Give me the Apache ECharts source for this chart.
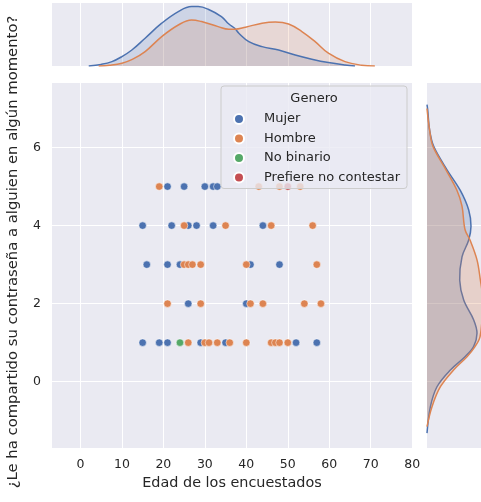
<!DOCTYPE html>
<html><head><meta charset="utf-8">
<script src="https://cdn.jsdelivr.net/npm/echarts@6/dist/echarts.min.js"></script>
<style>html,body{margin:0;padding:0;background:#fff}#c{width:481px;height:502px}</style>
</head><body><div id="c"></div>
<script>
// ---- data ----
const categorias = ['Mujer', 'Hombre', 'No binario', 'Prefiere no contestar'];

const mujerEdad = [21,25,30,32,33, 15,22,26,28,32,44, 16,21,24,41,48, 26,40, 15,19,21,29,35,52,57];
const mujerResp = [5,5,5,5,5, 4,4,4,4,4,4, 3,3,3,3,3, 2,2, 1,1,1,1,1,1,1];

const hombreEdad = [19,43,48,53, 25,35,46,56, 25,26,27,29,40,57, 21,29,41,44,54,58, 26,30,31,33,36,40,46,47,48,50];
const hombreResp = [5,5,5,5, 4,4,4,4, 3,3,3,3,3,3, 2,2,2,2,2,2, 1,1,1,1,1,1,1,1,1,1];

const noBinarioEdad = [24];
const noBinarioResp = [1];

const prefiereEdad = [50];
const prefiereResp = [5];

// top marginal KDE (edad vs densidad)
const kdeTopMujerEdad = [2,5,7.6,10,12.4,15.6,19.6,23.6,26.8,28.4,30.8,34,35.8,37.2,38.2,40.6,43.8,47.8,51.8,55.8,59.8,63.8,66.2];
const kdeTopMujerDens = [0,0.0008,0.0022,0.0047,0.0080,0.0139,0.0214,0.0272,0.0297,0.0297,0.0284,0.0247,0.0210,0.0189,0.0164,0.0122,0.0097,0.0080,0.0055,0.0034,0.0017,0.0005,0];
const kdeTopHombreEdad = [4.4,7,10,12.5,15.6,19.6,23.6,26.8,29.2,33.2,35.8,37.2,39.8,43.8,47,50.2,53.4,56.6,59.8,63.8,67.8,71];
const kdeTopHombreDens = [0,0.0004,0.0014,0.0033,0.0072,0.0147,0.0205,0.0230,0.0222,0.0197,0.0184,0.0184,0.0194,0.0214,0.0220,0.0210,0.0172,0.0122,0.0064,0.0022,0.0004,0];

// right marginal KDE (respuesta vs densidad)
const kdeDerMujerResp = [7.1,6.97,6.45,6.03,5.43,4.9,4.4,3.98,3.63,3.2,2.6,2.09,1.58,1.24,0.9,0.64,0.3,-0.13,-0.64,-1.32];
const kdeDerMujerDens = [0,0.0035,0.013,0.0335,0.1,0.1665,0.2085,0.22,0.2085,0.175,0.1635,0.1835,0.2335,0.25,0.233,0.19,0.117,0.05,0.017,0];
const kdeDerHombreResp = [7.0,6.45,6.03,5.43,4.9,4.5,3.9,3.63,3.12,2.6,2.18,1.75,1.15,0.9,0.64,0.3,-0.13,-0.64,-1.15];
const kdeDerHombreDens = [0,0.013,0.03,0.095,0.15,0.175,0.19,0.215,0.25,0.267,0.278,0.277,0.265,0.24,0.2,0.133,0.067,0.025,0];

const xTickValores = [0,10,20,30,40,50,60,70,80];
const yTickValores = [0,2,4,6];

// ---- chart ----
const FONT = 'DejaVu Sans';
const TXT = '#262626';
const colores = { 'Mujer': '#4c72b0', 'Hombre': '#dd8452', 'No binario': '#55a868', 'Prefiere no contestar': '#c44e52' };
const zip = (a, b) => a.map((v, i) => [v, b[i]]);

function scatter(name, xs, ys) {
  return {
    name, type: 'scatter', xAxisIndex: 0, yAxisIndex: 0,
    data: zip(xs, ys), symbol: 'circle', symbolSize: 7.5,
    itemStyle: { color: colores[name], borderColor: '#ffffff', borderWidth: 0.5, opacity: 1 },
    emphasis: { disabled: true }
  };
}
function rgba(hex, a) {
  const n = parseInt(hex.slice(1), 16);
  return `rgba(${(n >> 16) & 255},${(n >> 8) & 255},${n & 255},${a})`;
}
function kdeTop(name, xs, ds) {
  return {
    name: name + ' kde', type: 'line', xAxisIndex: 1, yAxisIndex: 1,
    data: zip(xs, ds), smooth: 0.4, symbol: 'none', silent: true,
    lineStyle: { color: colores[name], width: 1.5 },
    areaStyle: { color: rgba(colores[name], 0.25) }
  };
}
function kdeDer(name, ds, rs) {
  return {
    name: name + ' kde2', type: 'custom', coordinateSystem: 'cartesian2d',
    xAxisIndex: 2, yAxisIndex: 2, silent: true,
    data: [[0, rs[0]]],
    renderItem: function (params, api) {
      const pts = ds.map((d, i) => api.coord([d, rs[i]]));
      let minx = Infinity, miny = Infinity, maxx = -Infinity, maxy = -Infinity;
      pts.forEach(p => { minx = Math.min(minx, p[0]); maxx = Math.max(maxx, p[0]); miny = Math.min(miny, p[1]); maxy = Math.max(maxy, p[1]); });
      const cons = [[minx, miny], [maxx, maxy]];
      return {
        type: 'group', children: [
          { type: 'polygon', shape: { points: pts, smooth: 0.35, smoothConstraint: cons }, style: { fill: rgba(colores[name], 0.25) } },
          { type: 'polyline', shape: { points: pts, smooth: 0.35, smoothConstraint: cons }, style: { stroke: colores[name], lineWidth: 1.5, fill: null } }
        ]
      };
    }
  };
}

const chart = echarts.init(document.getElementById('c'), null, { renderer: 'canvas' });
const hiddenAxis = { show: true, axisLine: { show: false }, axisTick: { show: false }, axisLabel: { show: false } };
const white = { show: true, lineStyle: { color: '#ffffff', width: 1 } };

chart.setOption({
  animation: false,
  backgroundColor: '#ffffff',
  textStyle: { fontFamily: FONT },
  grid: [
    { left: 51, top: 82, width: 362, height: 366, show: true, backgroundColor: '#eaeaf2', borderWidth: 0 },
    { left: 51, top: 3, width: 362, height: 63, show: true, backgroundColor: '#eaeaf2', borderWidth: 0 },
    { left: 427, top: 82, width: 54, height: 366, show: true, backgroundColor: '#eaeaf2', borderWidth: 0 }
  ],
  xAxis: [
    { type: 'value', gridIndex: 0, min: -7.1, max: 80.2, splitNumber: 9,
      axisLine: { show: false }, axisTick: { show: false }, splitLine: white,
      axisLabel: { color: TXT, fontSize: 12.5, fontFamily: FONT, margin: 10,
        formatter: v => xTickValores.includes(v) ? String(v) : '' },
      name: 'Edad de los encuestados', nameLocation: 'middle', nameGap: 28,
      nameTextStyle: { color: TXT, fontSize: 14.4, fontFamily: FONT } },
    Object.assign({ type: 'value', gridIndex: 1, min: -7.1, max: 80.2, splitNumber: 9, splitLine: white }, hiddenAxis),
    Object.assign({ type: 'value', gridIndex: 2, min: 0, max: 0.27, splitLine: { show: false } }, hiddenAxis)
  ],
  yAxis: [
    { type: 'value', gridIndex: 0, min: -1.7, max: 7.68,
      axisLine: { show: false }, axisTick: { show: false }, splitLine: white,
      axisLabel: { color: TXT, fontSize: 12.5, fontFamily: FONT, margin: 10,
        formatter: v => yTickValores.includes(v) ? String(v) : '' } },
    Object.assign({ type: 'value', gridIndex: 1, min: 0, max: 0.0315, splitLine: { show: false } }, hiddenAxis),
    Object.assign({ type: 'value', gridIndex: 2, min: -1.7, max: 7.68, splitLine: white }, hiddenAxis)
  ],
  legend: {
    orient: 'vertical', left: 221, top: 86,
    padding: [26, 7, 4, 12],
    itemWidth: 20, itemHeight: 10, itemGap: 5.5,
    backgroundColor: 'rgba(234,234,242,0.8)', borderColor: '#cccccc', borderWidth: 1, borderRadius: 3,
    textStyle: { color: TXT, fontSize: 13, fontFamily: FONT, lineHeight: 14, padding: [0, 0, 0, 10] },
    selectedMode: false,
    data: categorias.map(n => ({ name: n, icon: 'circle' }))
  },
  graphic: [
    { type: 'text', z: 100, x: 314, y: 99,
      style: { text: 'Genero', fill: TXT, font: '13px "DejaVu Sans"', textAlign: 'center', textVerticalAlign: 'middle' } },
    { type: 'text', z: 100, x: 13, y: 252, rotation: Math.PI / 2,
      style: { text: '¿Le ha compartido su contraseña a alguien en algún momento?', fill: TXT,
        font: '14.8px "DejaVu Sans"', textAlign: 'center', textVerticalAlign: 'middle' } }
  ],
  series: [
    kdeTop('Mujer', kdeTopMujerEdad, kdeTopMujerDens),
    kdeTop('Hombre', kdeTopHombreEdad, kdeTopHombreDens),
    kdeDer('Mujer', kdeDerMujerDens, kdeDerMujerResp),
    kdeDer('Hombre', kdeDerHombreDens, kdeDerHombreResp),
    scatter('Mujer', mujerEdad, mujerResp),
    scatter('Hombre', hombreEdad, hombreResp),
    scatter('No binario', noBinarioEdad, noBinarioResp),
    scatter('Prefiere no contestar', prefiereEdad, prefiereResp)
  ]
});
</script></body></html>
